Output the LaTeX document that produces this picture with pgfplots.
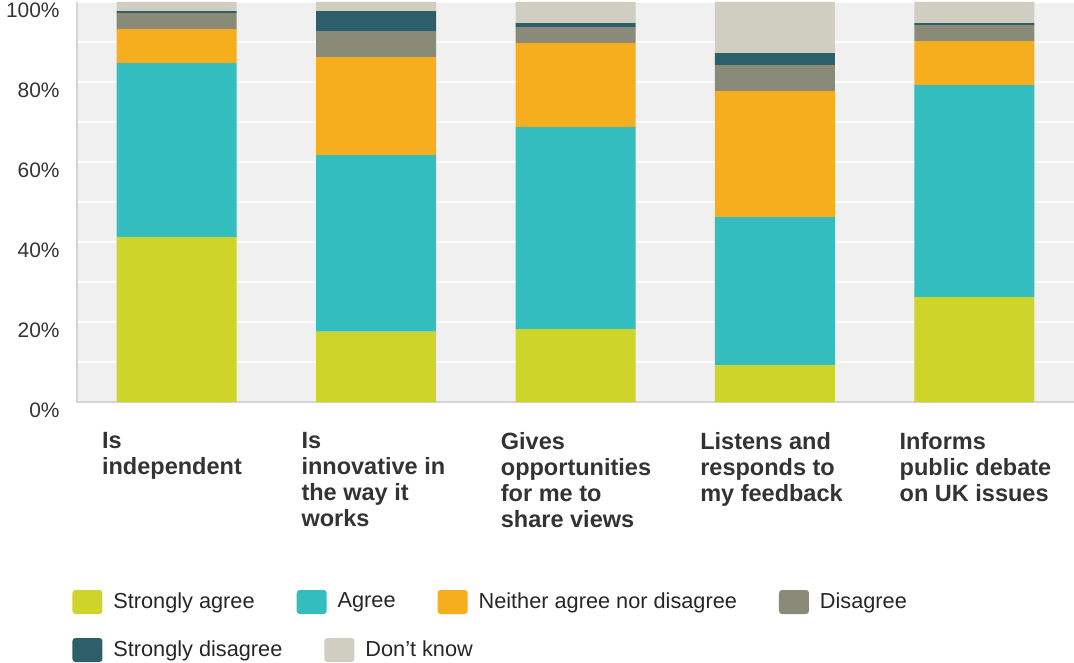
\documentclass[border=0pt]{standalone}
\usepackage{fontspec}
\setmainfont{Liberation Sans}
\usepackage{pgfplots}
\pgfplotsset{compat=1.18}

\definecolor{csa}{HTML}{CFD42A}
\definecolor{cag}{HTML}{33BDBF}
\definecolor{cne}{HTML}{F6AE1E}
\definecolor{cdi}{HTML}{8A8A78}
\definecolor{csd}{HTML}{2D5F6B}
\definecolor{cdk}{HTML}{D0CEC0}
\definecolor{bgc}{HTML}{F0F0F0}
\definecolor{axc}{HTML}{D4D4D4}
\definecolor{txc}{HTML}{333333}

\pgfplotsset{
  legstyle/.style={
    legend style={draw=none, fill=none, inner sep=0pt, anchor=west,
      font=\fontsize{10.9}{13}\selectfont,
      nodes={inner sep=0pt, text=black!85},
      /tikz/every odd column/.append style={column sep=5.5bp},
      /tikz/every even column/.append style={column sep=21bp}},
    legend image code/.code={\draw[#1, draw=none, rounded corners=1.5bp] (0bp,-6bp) rectangle (15bp,6bp);}
  }
}

\begin{document}
\begin{tikzpicture}
\begin{axis}[
  name=ax,
  scale only axis,
  width=498.5bp, height=200bp,
  xmin=-0.5, xmax=4.5, ymin=0, ymax=100,
  ybar stacked, bar width=60bp,
  axis background/.style={fill=bgc},
  axis x line*=bottom, axis y line*=left,
  axis line style={draw=axc, line width=1bp},
  major tick length=0pt, minor tick length=0pt,
  ytick={0,20,...,100}, minor ytick={10,30,...,90},
  ymajorgrids, yminorgrids,
  major grid style={white, line width=1bp},
  minor grid style={white, line width=1bp},
  yticklabel={\pgfmathprintnumber{\tick}\%},
  /pgf/number format/assume math mode=true,
  yticklabel style={font=\fontsize{10.5}{12}\selectfont, text=txc, inner sep=0pt, xshift=-8.5bp, yshift=-4bp},
  xtick={0,1,2,3,4},
  xticklabels={{Is\\independent},{Is\\innovative in\\the way it\\works},{Gives\\opportunities\\for me to\\share views},{Listens and\\responds to\\my feedback},{Informs\\public debate\\on UK issues}},
  xticklabel style={align=left, anchor=north west, inner sep=0pt, xshift=-37.5bp, yshift=-15bp,
    font=\bfseries\fontsize{11.8}{13}\selectfont, text=txc},
  legend columns=4,
  legstyle,
  legend style={at={(-0.005,-0.5)}},
]
\addplot[fill=csa, draw=none] coordinates {(0,41.2) (1,17.6) (2,18.2) (3,9.2) (4,26.2)};
\addplot[fill=cag, draw=none] coordinates {(0,43.5) (1,44.1) (2,50.5) (3,37.0) (4,53.0)};
\addplot[fill=cne, draw=none] coordinates {(0,8.5) (1,24.5) (2,21.0) (3,31.5) (4,11.0)};
\addplot[fill=cdi, draw=none] coordinates {(0,4.0) (1,6.5) (2,4.0) (3,6.5) (4,4.0)};
\addplot[fill=csd, draw=none] coordinates {(0,0.5) (1,5.0) (2,1.0) (3,3.0) (4,0.5)};
\addplot[fill=cdk, draw=none] coordinates {(0,2.3) (1,2.3) (2,5.3) (3,12.8) (4,5.3)};
\legend{Strongly agree, Agree, Neither agree nor disagree, Disagree}
\end{axis}
\begin{axis}[
  at={(ax.south west)}, anchor=south west,
  scale only axis,
  width=498.5bp, height=200bp,
  hide axis, xmin=0, xmax=1, ymin=0, ymax=1,
  legend columns=2,
  legstyle,
  legend style={at={(-0.005,-0.62)}},
]
\addlegendimage{fill=csd, draw=none}
\addlegendentry{Strongly disagree}
\addlegendimage{fill=cdk, draw=none}
\addlegendentry{Don't know}
\end{axis}
\pgfresetboundingbox
\path[use as bounding box] ([shift={(-38.5bp,-130.5bp)}]ax.south west) rectangle ++(537bp,331.5bp);
\end{tikzpicture}
\end{document}
